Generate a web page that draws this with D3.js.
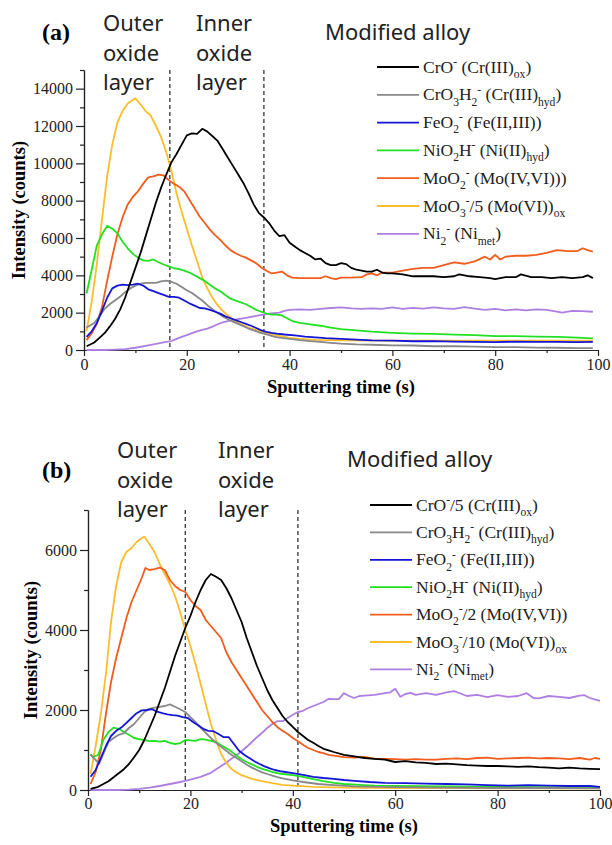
<!DOCTYPE html>
<html>
<head>
<meta charset="utf-8">
<script src="https://cdn.jsdelivr.net/npm/d3@7"></script>
<style>
  body { margin: 0; background: #fff; }
  text { font-family: "Liberation Serif", "Times New Roman", serif; }
  .note { font-family: "Noto Sans", "Open Sans", sans-serif; fill: #222; }
</style>
</head>
<body>
<div id="chart"></div>
<script>
// ---- data ([time s, counts]) ----
// panel (a)
var crA = [[0.5,200],[2,400],[3,650],[4,900],[5,1250],[6,1650],[7,2150],[8,2800],[9,3600],[10,4400],[11,5200],[12,6100],[13,7000],[14,7900],[15,8700],[16,9400],[17,10050],[18,10500],[19,11000],[20,11500],[21,11600],[22,11580],[23,11850],[24,11700],[25,11450],[26,11200],[27,10750],[28,10300],[29,9850],[30,9400],[31,8950],[32,8400],[33,7800],[34,7350],[35,7100],[36,6800],[37,6400],[38,6100],[39,6150],[40,5750],[41,5550],[42,5350],[43,5200],[44,5050],[45,4850],[46,4900],[47,4650],[48,4550],[49,4550],[50,4650],[51,4600],[52,4400],[53,4300],[54,4250],[55,4200],[56,4200],[57,4300],[58,4150],[59,4100],[60,4100],[62,4050],[64,3950],[66,3950],[68,3950],[70,3900],[72,3950],[73,4050],[75,3950],[77,3900],[79,3850],[80,3800],[82,3900],[84,3900],[85,4050],[87,3900],[89,3900],[91,3850],[93,3900],[95,3850],[97,3900],[98,4000],[99,3850]];
var crohA = [[0.5,1200],[2,1450],[3,1800],[4,2200],[5,2450],[6,2650],[7,2850],[8,3100],[9,3300],[10,3450],[11,3550],[12,3600],[13,3600],[14,3600],[15,3680],[16,3720],[17,3650],[18,3550],[19,3380],[20,3200],[21,3050],[22,2850],[23,2650],[24,2400],[25,2180],[26,1980],[27,1800],[28,1650],[29,1520],[30,1400],[31,1280],[32,1150],[33,1050],[34,950],[35,880],[36,800],[37,720],[38,660],[40,600],[42,530],[44,480],[46,430],[48,380],[50,340],[53,300],[56,280],[60,250],[64,240],[68,200],[72,200],[76,180],[80,150],[84,150],[88,130],[92,120],[96,100],[99,100]];
var feA = [[0.5,700],[1.5,1000],[2.5,1450],[3.5,2100],[4.5,2800],[5.5,3300],[6.5,3450],[7.5,3500],[8.5,3480],[9.5,3500],[10.5,3550],[11.5,3450],[12.5,3250],[13.5,3150],[14.5,3050],[15.5,2950],[16.5,2850],[17.5,2850],[18.5,2800],[19.5,2650],[20.5,2500],[21.5,2380],[22.5,2250],[23.5,2230],[24.5,2150],[25.5,2050],[26.5,1950],[27.5,1800],[28.5,1700],[29.5,1600],[30.5,1500],[31.5,1400],[32.5,1300],[33.5,1180],[34.5,1050],[35.5,970],[36.5,920],[37.5,880],[39,830],[41,780],[43,720],[45,680],[47,640],[50,600],[53,560],[56,520],[60,500],[64,470],[68,480],[72,450],[76,440],[80,420],[84,450],[88,430],[92,440],[96,420],[99,430]];
var niA = [[0.5,3030],[1.5,4300],[2.5,5600],[3.5,6200],[4.5,6650],[5.5,6500],[6.5,6250],[7.5,5800],[8.5,5450],[9.5,5150],[10.5,4950],[11.5,4800],[12.5,4780],[13.5,4850],[14.5,4700],[15.5,4580],[16.5,4480],[17.5,4380],[18.5,4330],[19.5,4250],[20.5,4150],[21.5,4000],[22.5,3850],[23.5,3700],[24.5,3500],[25.5,3300],[26.5,3150],[27.5,2950],[28.5,2750],[29.5,2650],[30.5,2550],[31.5,2450],[32.5,2300],[33.5,2150],[34.5,2050],[35.5,1950],[36.5,1900],[37.5,1900],[38.5,1850],[39.5,1700],[40.5,1550],[42,1450],[44,1370],[46,1300],[48,1200],[50,1120],[53,1050],[56,980],[60,920],[64,880],[68,860],[72,820],[76,800],[80,740],[84,740],[88,720],[92,700],[96,660],[99,620]];
var moA = [[0.5,530],[1.5,900],[2.5,1400],[3.5,2300],[4.5,3700],[5.5,5000],[6.5,6200],[7.5,7100],[8.5,7800],[9.5,8200],[10.5,8500],[11.5,8900],[12.5,9250],[13.5,9300],[14.5,9400],[15.5,9350],[16.5,9100],[17.5,8900],[18.5,8750],[19.5,8500],[20.5,8050],[21.5,7600],[22.5,7150],[23.5,6800],[24.5,6450],[25.5,6150],[26.5,5900],[27.5,5600],[28.5,5350],[29.5,5180],[30.5,5050],[31.5,4950],[32.5,4800],[33.5,4650],[34.5,4420],[35.5,4250],[36.5,4100],[37.5,4150],[38.5,4200],[39.5,4000],[40.5,3880],[42,3850],[44,3850],[46,3850],[47,3950],[48,3850],[49,3800],[50,3880],[52,3880],[54,3900],[55,4050],[56,4100],[57,4000],[58,4150],[60,4150],[62,4250],[64,4350],[66,4400],[68,4400],[70,4550],[72,4700],[74,4620],[76,4750],[78,5000],[79,4850],[80,5100],[81,4850],[82,5000],[84,5050],[86,5050],[88,5100],[90,5200],[92,5350],[94,5300],[96,5300],[97,5450],[98,5350],[99,5270]];
var moO3A = [[0.5,1000],[1.5,2600],[2.5,4600],[3.5,7000],[4.5,9300],[5.5,11000],[6.5,12200],[7.5,12800],[8.5,13200],[9.5,13400],[10,13480],[11,13150],[12,12800],[13,12550],[14,12000],[15,11400],[16,10600],[17,9600],[18,8400],[19,7400],[20,6500],[21,5600],[22,4750],[23,3900],[24,3300],[25,2800],[26,2400],[27,2100],[28,1850],[29,1650],[30,1450],[32,1200],[34,1030],[36,880],[38,760],[40,650],[42,590],[45,540],[50,520],[60,500],[70,500],[80,500],[90,500],[99,500]];
var ni2A = [[0.5,0],[4,0],[6,20],[8,50],[10,120],[12,220],[14,330],[16,430],[17,480],[18,600],[19,700],[20,800],[21,900],[22,1000],[23,1080],[24,1150],[25,1250],[26,1380],[27,1480],[28,1550],[29,1600],[30,1650],[31,1700],[32,1750],[33,1800],[34,1850],[35,1900],[36,1950],[37,1980],[38,2000],[39,2100],[40,2150],[42,2180],[44,2150],[46,2200],[48,2250],[50,2280],[52,2230],[54,2200],[56,2230],[58,2200],[60,2280],[62,2200],[64,2260],[66,2220],[68,2280],[70,2230],[72,2200],[74,2300],[76,2220],[78,2150],[80,2200],[82,2120],[84,2180],[86,2120],[88,2180],[90,2150],[92,2050],[93,2000],[95,2100],[97,2080],[99,2050]];

// panel (b)
var crB = [[0.5,30],[2,80],[4,220],[5,320],[6,420],[7,520],[8,650],[9,820],[10,1000],[11,1250],[12,1550],[13,1850],[14,2200],[15,2550],[16,2950],[17,3350],[18,3700],[19,4050],[20,4350],[21,4700],[22,5000],[23,5250],[24,5400],[25,5330],[26,5250],[27,5050],[28,4800],[29,4500],[30,4200],[31,3800],[32,3450],[33,3100],[34,2800],[35,2500],[36,2250],[37,2050],[38,1850],[39,1700],[40,1580],[41,1450],[42,1350],[43,1250],[44,1180],[45,1100],[46,1030],[47,990],[48,950],[50,880],[52,840],[54,800],[56,780],[58,760],[60,700],[62,720],[64,690],[66,680],[68,650],[70,660],[72,640],[74,620],[76,610],[78,600],[80,600],[82,590],[84,580],[86,590],[88,570],[90,560],[92,540],[94,560],[96,540],[98,530],[100,520]];
var crohB = [[0.5,880],[1.5,750],[2.2,660],[3,900],[4,1200],[5,1300],[6,1380],[7,1420],[8,1550],[9,1650],[10,1800],[11,1950],[12,2030],[13,2060],[14,2080],[15,2100],[16,2140],[17,2080],[18,2020],[19,1950],[20,1820],[21,1700],[22,1560],[23,1430],[24,1300],[25,1180],[26,1080],[27,980],[28,880],[29,800],[30,720],[31,630],[32,560],[33,500],[34,440],[35,400],[36,360],[37,320],[38,290],[40,240],[42,200],[45,150],[48,120],[52,90],[60,70],[70,60],[80,50],[90,50],[100,40]];
var feB = [[0.5,330],[1.5,500],[2.5,800],[3.5,1100],[4.5,1350],[5.5,1480],[6.5,1560],[7.5,1680],[8.5,1800],[9.5,1920],[10.5,1990],[11.5,2000],[12.5,2020],[13.5,1960],[14.5,1920],[15.5,1890],[16.5,1870],[17.5,1860],[18.5,1820],[19.5,1800],[20.5,1700],[21.5,1620],[22.5,1530],[23.5,1480],[24.5,1470],[25.5,1400],[26.5,1320],[27.5,1320],[28.5,1150],[29.5,980],[30.5,880],[31.5,800],[32.5,720],[33.5,650],[34.5,590],[35.5,540],[36.5,500],[37.5,470],[38.5,450],[40,420],[42,380],[44,330],[46,300],[48,280],[50,250],[52,230],[55,200],[58,180],[62,170],[66,160],[70,150],[74,140],[78,120],[82,110],[86,120],[90,110],[94,100],[98,100],[100,80]];
var niB = [[0.5,900],[1,820],[2,880],[3,1250],[4,1450],[5,1560],[6,1530],[7,1450],[8,1380],[9,1300],[10,1270],[11,1250],[12,1220],[13,1230],[14,1210],[15,1230],[16,1180],[17,1150],[18,1170],[19,1250],[20,1240],[21,1230],[22,1270],[23,1260],[24,1230],[25,1200],[26,1120],[27,1050],[28,960],[29,860],[30,770],[31,700],[32,640],[33,580],[34,530],[35,490],[36,450],[37,420],[38,400],[40,370],[42,330],[44,270],[46,220],[48,180],[50,150],[53,130],[56,110],[60,100],[70,90],[80,80],[90,70],[100,60]];
var moB = [[0.5,150],[1.5,450],[2.5,1000],[3.5,1900],[4.5,2700],[5.5,3300],[6.5,3800],[7.5,4300],[8.5,4700],[9.5,5000],[10.5,5300],[11.2,5550],[12,5500],[13,5520],[14,5560],[15,5500],[16,5250],[17,5100],[18,5000],[19,4950],[20,4750],[21,4600],[22,4500],[23,4250],[24,4100],[25,3950],[26,3800],[27,3450],[28,3200],[29,3000],[30,2800],[31,2600],[32,2400],[33,2200],[34,2000],[35,1850],[36,1700],[37,1570],[38,1480],[39,1400],[40,1300],[41,1220],[42,1130],[43,1050],[44,1000],[45,950],[46,920],[47,880],[48,860],[50,820],[52,810],[54,830],[56,780],[58,780],[60,770],[62,760],[64,770],[66,760],[68,760],[70,780],[72,790],[74,770],[76,800],[78,810],[80,780],[82,790],[84,800],[86,810],[88,790],[90,800],[92,790],[94,770],[96,800],[98,760],[99,800],[100,780]];
var moO3B = [[0.5,400],[1.5,1100],[2.5,1900],[3.5,2900],[4.5,4200],[5.5,5100],[6.5,5700],[7.5,5950],[8.5,6050],[9.5,6200],[10.5,6300],[11,6330],[12,6150],[13,5950],[14,5650],[15,5400],[16,5150],[17,4850],[18,4450],[19,4000],[20,3600],[21,3150],[22,2650],[23,2150],[24,1650],[25,1250],[26,900],[27,680],[28,530],[29,440],[30,370],[32,280],[34,220],[36,170],[38,130],[40,110],[44,80],[50,60],[60,50],[70,50],[80,40],[90,40],[100,40]];
var ni2B = [[0.5,0],[6,0],[8,10],[10,30],[12,60],[14,100],[16,150],[18,200],[19,230],[20,260],[22,330],[24,430],[26,600],[27,680],[28,780],[29,870],[30,970],[31,1080],[32,1200],[33,1320],[34,1430],[35,1550],[36,1650],[37,1720],[38,1720],[39,1800],[40,1880],[41,1950],[42,1980],[43,2050],[44,2100],[45,2150],[46,2200],[47,2280],[48,2270],[49,2270],[50,2420],[51,2350],[52,2300],[53,2350],[54,2360],[56,2380],[58,2420],[59,2440],[60,2530],[61,2330],[62,2400],[63,2430],[64,2380],[66,2420],[68,2380],[70,2440],[71.5,2470],[73,2400],[74,2350],[76,2380],[78,2320],[80,2370],[82,2330],[84,2350],[85.7,2420],[87,2300],[88,2290],[90,2350],[92,2330],[94,2300],[96,2360],[97,2370],[98,2300],[100,2230]];

// colours in legend order
var colors = ['#000000', '#888888', '#1515d8', '#22e022', '#f25c1c', '#fbbd2c', '#ad7fe0'];

// legend labels: [text, 'sub'|'sup'|'']
var legendA = [
	[['CrO'], ['-', 'sup'], [' (Cr(III)'], ['ox', 'sub'], [')']],
	[['CrO'], ['3', 'sub'], ['H'], ['2', 'sub'], ['-', 'sup'], [' (Cr(III)'], ['hyd', 'sub'], [')']],
	[['FeO'], ['2', 'sub'], ['-', 'sup'], [' (Fe(II,III))']],
	[['NiO'], ['2', 'sub'], ['H'], ['-', 'sup'], [' (Ni(II)'], ['hyd', 'sub'], [')']],
	[['MoO'], ['2', 'sub'], ['-', 'sup'], [' (Mo(IV,VI)))']],
	[['MoO'], ['3', 'sub'], ['-', 'sup'], ['/5 (Mo(VI))'], ['ox', 'sub']],
	[['Ni'], ['2', 'sub'], ['-', 'sup'], [' (Ni'], ['met', 'sub'], [')']]
];
var legendB = [
	[['CrO'], ['-', 'sup'], ['/5 (Cr(III)'], ['ox', 'sub'], [')']],
	[['CrO'], ['3', 'sub'], ['H'], ['2', 'sub'], ['-', 'sup'], [' (Cr(III)'], ['hyd', 'sub'], [')']],
	[['FeO'], ['2', 'sub'], ['-', 'sup'], [' (Fe(II,III))']],
	[['NiO'], ['2', 'sub'], ['H'], ['-', 'sup'], [' (Ni(II)'], ['hyd', 'sub'], [')']],
	[['MoO'], ['2', 'sub'], ['-', 'sup'], ['/2 (Mo(IV,VI))']],
	[['MoO'], ['3', 'sub'], ['-', 'sup'], ['/10 (Mo(VI))'], ['ox', 'sub']],
	[['Ni'], ['2', 'sub'], ['-', 'sup'], [' (Ni'], ['met', 'sub'], [')']]
];

var xTicks = [0, 20, 40, 60, 80, 100];
var xMinor = [10, 30, 50, 70, 90];
var yTicksA = [0, 2000, 4000, 6000, 8000, 10000, 12000, 14000];
var yTicksB = [0, 2000, 4000, 6000];
var layersA = [16.7, 35];
var layersB = [19, 41];

var svg = d3.select('#chart').append('svg').attr('width', 612).attr('height', 845);

// write text with sub/superscripts
function richText(g, x, y, segs, size) {
	var t = g.append('text').attr('x', x).attr('y', y).style('font-size', size + 'px');
	var shift = 0;
	segs.forEach(function(s) {
		var kind = s[1] || '';
		var target = kind === 'sub' ? size * 0.3 : kind === 'sup' ? -size * 0.38 : 0;
		t.append('tspan')
			.attr('dy', target - shift)
			.style('font-size', kind ? (size * 0.66) + 'px' : null)
			.text(s[0]);
		shift = target;
	});
	return t;
}

function panel(cfg) {
	var g = svg.append('g');
	var x = d3.scaleLinear().domain([0, 100]).range([cfg.left, cfg.right]);
	var y = d3.scaleLinear().domain([0, cfg.ymax]).range([cfg.bottom, cfg.top]);

	// minor ticks
	g.append('g').attr('transform', 'translate(0,' + cfg.bottom + ')')
		.call(d3.axisBottom(x).tickValues(xMinor).tickSize(3).tickSizeOuter(0).tickFormat(''));
	g.append('g').attr('transform', 'translate(' + cfg.left + ',0)')
		.call(d3.axisLeft(y).tickValues(cfg.yMinor).tickSize(4).tickSizeOuter(0).tickFormat(''));

	// major axes
	g.append('g').attr('transform', 'translate(0,' + cfg.bottom + ')')
		.call(d3.axisBottom(x).tickValues(xTicks).tickSize(6).tickSizeOuter(0).tickPadding(cfg.xpad).tickFormat(d3.format('d')));
	g.append('g').attr('transform', 'translate(' + cfg.left + ',0)')
		.call(d3.axisLeft(y).tickValues(cfg.yTicks).tickSize(8).tickSizeOuter(0).tickPadding(3).tickFormat(d3.format('d')));
	g.selectAll('.domain, .tick line').attr('stroke', '#222').attr('stroke-width', 1.2);
	g.selectAll('.tick text').style('font-family', '"Liberation Serif", serif').style('font-size', '16px').attr('fill', '#222');

	// axis titles
	g.append('text').attr('x', (cfg.left + cfg.right) / 2).attr('y', cfg.bottom + cfg.xtitle)
		.attr('text-anchor', 'middle').style('font-size', '18.5px').style('font-weight', 'bold').text('Sputtering time (s)');
	g.append('text')
		.attr('transform', 'translate(' + cfg.ytx + ',' + (cfg.top + cfg.bottom) / 2 + ') rotate(-90)')
		.attr('text-anchor', 'middle').style('font-size', '18.5px').style('font-weight', 'bold').text('Intensity (counts)');

	// layer boundaries
	g.selectAll('line.layer').data(cfg.layers).enter().append('line')
		.attr('x1', function(d) { return x(d); })
		.attr('x2', function(d) { return x(d); })
		.attr('y1', cfg.top).attr('y2', cfg.bottom)
		.attr('stroke', '#333').attr('stroke-width', 1.3).attr('stroke-dasharray', '4,3');

	// curves, drawn so black ends on top like the original
	var line = d3.line().x(function(d) { return x(d[0]); }).y(function(d) { return y(d[1]); });
	var order = [6, 5, 4, 3, 1, 2, 0];
	order.forEach(function(i) {
		g.append('path').datum(cfg.series[i])
			.attr('fill', 'none').attr('stroke', colors[i]).attr('stroke-width', 1.8)
			.attr('stroke-linejoin', 'round').attr('d', line);
	});

	// legend
	cfg.legend.forEach(function(segs, i) {
		var ly = cfg.legY + i * cfg.legStep;
		g.append('line').attr('x1', cfg.legX).attr('x2', cfg.legX + 42).attr('y1', ly).attr('y2', ly)
			.attr('stroke', colors[i]).attr('stroke-width', 1.8);
		richText(g, cfg.legX + 46, ly + 5.5, segs, 17.5).attr('fill', '#222');
	});

	// panel letter and annotations
	g.append('text').attr('x', 42).attr('y', cfg.letterY).style('font-size', '24px').style('font-weight', 'bold').text(cfg.letter);
	['Outer', 'oxide', 'layer'].forEach(function(w, i) {
		g.append('text').attr('class', 'note').attr('x', cfg.outerX).attr('y', cfg.noteY + i * 29.5).style('font-size', '22px').text(w);
	});
	['Inner', 'oxide', 'layer'].forEach(function(w, i) {
		g.append('text').attr('class', 'note').attr('x', cfg.innerX).attr('y', cfg.noteY + i * 29.5).style('font-size', '22px').text(w);
	});
	g.append('text').attr('class', 'note').attr('x', cfg.modX).attr('y', cfg.modY).style('font-size', '22px').text('Modified alloy');
}

panel({
	left: 84, right: 598, top: 70, bottom: 350, ymax: 15000,
	yTicks: yTicksA, yMinor: d3.range(1000, 16000, 2000), layers: layersA,
	series: [crA, crohA, feA, niA, moA, moO3A, ni2A], legend: legendA,
	legX: 377, legY: 67, legStep: 27.8,
	xpad: 3, xtitle: 43, ytx: 25,
	letter: '(a)', letterY: 40, noteY: 31, outerX: 103, innerX: 196, modX: 325, modY: 40
});

panel({
	left: 88, right: 600, top: 510, bottom: 790, ymax: 7000,
	yTicks: yTicksB, yMinor: d3.range(1000, 8000, 2000), layers: layersB,
	series: [crB, crohB, feB, niB, moB, moO3B, ni2B], legend: legendB,
	legX: 370, legY: 505, legStep: 27.4,
	xpad: 2, xtitle: 42, ytx: 37,
	letter: '(b)', letterY: 478, noteY: 458, outerX: 117, innerX: 218, modX: 347, modY: 467
});
</script>
</body>
</html>
